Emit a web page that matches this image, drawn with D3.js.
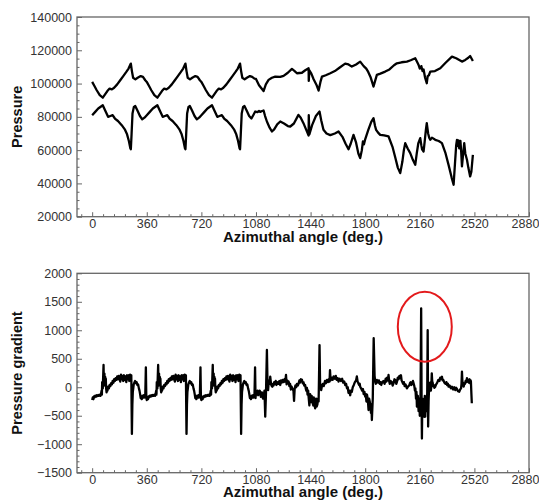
<!DOCTYPE html>
<html><head><meta charset="utf-8">
<script src="https://cdn.jsdelivr.net/npm/d3@7"></script>
<style>
body{margin:0;background:#fff;}
svg{display:block;font-family:"Liberation Sans",Arial,sans-serif;}
</style></head>
<body>
<svg id="c" width="539" height="502"></svg>
<script>
// ---------- DATA ----------
const xTicks = [0,360,720,1080,1440,1800,2160,2520,2880];
const topYTicks = [20000,40000,60000,80000,100000,120000,140000];
const botYTicks = [-1500,-1000,-500,0,500,1000,1500,2000];

const upperPressure = [
[0,101000],[15,98500],[30,96000],[50,93000],[70,91500],[85,93500],[100,95500],[115,97000],[130,96500],[145,97500],[165,99500],[185,102000],[205,104500],[225,107000],[240,109000],[255,112000],[262,107500],[270,103500],[285,102500],[300,103500],[320,104500],[335,104000],[350,102000],
[360,101000],[375,98500],[390,96000],[410,93000],[430,91500],[445,93500],[460,95500],[475,97000],[490,96500],[505,97500],[525,99500],[545,102000],[565,104500],[585,107000],[600,109000],[615,112000],[622,107500],[630,103500],[645,102500],[660,103500],[680,104500],[695,104000],[710,102000],
[720,101000],[735,98500],[750,96000],[770,93000],[790,91500],[805,93500],[820,95500],[835,97000],[850,96500],[865,97500],[885,99500],[905,102000],[925,104500],[945,107000],[960,109000],[975,112000],[982,107500],[990,103500],[1005,102500],[1020,103500],[1040,104500],[1055,104000],[1070,103000],
[1080,102800],[1100,99000],[1130,95500],[1145,99500],[1163,102200],[1185,103500],[1207,104200],[1240,104000],[1262,104600],[1290,106500],[1317,108800],[1335,107500],[1350,106200],[1383,106500],[1405,108000],[1427,109200],[1428,101600],[1432,108000],[1445,106000],[1460,102600],[1480,99000],[1493,95800],[1505,101000],[1515,104200],[1540,105000],[1570,106200],[1600,107500],[1630,109500],[1668,112000],[1690,111500],[1712,110200],[1740,111500],[1767,113200],[1790,110500],[1807,109000],[1820,107000],[1835,104000],[1855,98200],[1865,101500],[1877,105200],[1900,106000],[1932,107200],[1960,108500],[1990,111000],[2009,112200],[2040,112800],[2075,113200],[2100,114000],[2130,115200],[2145,112500],[2152,111200],[2160,109000],[2170,110500],[2178,107500],[2185,108500],[2195,103500],[2206,100200],[2212,104500],[2220,105000],[2229,107200],[2260,107500],[2295,109200],[2330,112500],[2372,116200],[2400,115200],[2438,113200],[2460,114200],[2480,115500],[2492,116600],[2510,113600]
];

const lowerPressure = [
[0,81000],[20,83000],[40,85000],[70,87000],[85,84000],[105,80000],[120,80500],[135,81000],[150,79000],[170,77500],[195,75000],[215,72500],[230,69500],[242,65500],[252,61000],[255,60500],[260,70000],[266,82000],[275,86000],[284,86500],[300,83500],[315,80500],[330,78500],[345,79500],
[360,81000],[380,83000],[400,85000],[430,87000],[445,84000],[465,80000],[480,80500],[495,81000],[510,79000],[530,77500],[555,75000],[575,72500],[590,69500],[602,65500],[612,61000],[615,60500],[620,70000],[626,82000],[635,86000],[644,86500],[660,83500],[675,80500],[690,78500],[705,79500],
[720,81000],[740,83000],[760,85000],[790,87000],[805,84000],[825,80000],[840,80500],[855,81000],[870,79000],[890,77500],[915,75000],[935,72500],[950,69500],[962,65500],[972,61000],[975,60500],[980,70000],[986,82000],[995,86000],[1004,86500],[1020,83500],[1035,80500],[1050,79000],[1062,81000],
[1075,83200],[1090,82800],[1100,83500],[1108,83000],[1120,83500],[1130,83800],[1140,80500],[1152,77200],[1170,73500],[1185,71200],[1200,72500],[1220,75500],[1240,77200],[1265,76000],[1290,74500],[1306,74200],[1330,76000],[1360,81200],[1375,79500],[1393,76200],[1410,72500],[1427,68800],[1428,81000],[1432,69500],[1450,75000],[1475,80500],[1499,83200],[1510,78000],[1525,72200],[1545,70000],[1570,69000],[1600,70000],[1624,71200],[1650,68000],[1670,64000],[1690,60500],[1705,64000],[1723,69200],[1740,64500],[1755,58000],[1767,55200],[1778,60000],[1785,65200],[1792,63500],[1800,66500],[1820,72000],[1840,77000],[1855,79200],[1865,74500],[1872,72200],[1885,70500],[1899,69200],[1925,68800],[1954,68200],[1980,62000],[2000,55000],[2015,49500],[2031,46200],[2045,53000],[2055,60000],[2064,64200],[2080,61000],[2097,58200],[2115,54000],[2130,51200],[2140,58000],[2150,64000],[2163,67200],[2170,63000],[2175,60500],[2185,59200],[2192,65000],[2200,72000],[2206,76200],[2215,70000],[2222,67500],[2229,66200],[2240,67500],[2262,66200],[2285,65500],[2306,64200],[2330,58000],[2350,51000],[2370,43500],[2383,39200],[2392,52000],[2400,63000],[2405,66200],[2410,62500],[2415,65800],[2420,61000],[2428,65500],[2433,59000],[2438,50200],[2445,57000],[2453,64200],[2460,58000],[2471,54200],[2480,49500],[2492,44200],[2500,47000],[2510,57200]
];

const pressureGradient = [
[0,-225],[4,-180],[8,-210],[12,-160],[16,-175],[20,-150],[26,-165],[30,-140],[36,-155],[40,-135],[46,-150],[50,-130],[55,-150],[58,-120],[62,-60],[64,-130],[66,90],[70,-20],[75,390],[77,100],[79,30],[81,240],[83,60],[86,180],[88,40],[90,150],[92,-20],[95,-90],[98,-10],[101,-60],[105,10],[110,-20],[115,40],[120,20],[125,70],[130,50],[135,110],[140,80],[145,140],[150,110],[155,160],[160,130],[165,190],[170,140],[175,200],[180,150],[185,100],[190,220],[195,140],[200,200],[205,110],[210,210],[215,130],[220,190],[225,90],[230,210],[235,140],[240,210],[245,110],[250,220],[254,150],[258,210],[262,-820],[265,-300],[268,-80],[271,-20],[274,50],[278,80],[283,110],[288,70],[293,90],[298,40],[303,50],[308,-20],[312,-60],[316,-120],[320,-190],[324,-160],[327,-210],[332,-150],[337,-180],[341,-140],[345,-180],[350,-150],[354,350],[357,-190],
[360,-225],[364,-180],[368,-210],[372,-160],[376,-175],[380,-150],[386,-165],[390,-140],[396,-155],[400,-135],[406,-150],[410,-130],[415,-150],[418,-120],[422,-60],[424,-130],[426,90],[430,-20],[435,390],[437,100],[439,30],[441,240],[443,60],[446,180],[448,40],[450,150],[452,-20],[455,-90],[458,-10],[461,-60],[465,10],[470,-20],[475,40],[480,20],[485,70],[490,50],[495,110],[500,80],[505,140],[510,110],[515,160],[520,130],[525,190],[530,140],[535,200],[540,150],[545,100],[550,220],[555,140],[560,200],[565,110],[570,210],[575,130],[580,190],[585,90],[590,210],[595,140],[600,210],[605,110],[610,220],[614,150],[618,210],[622,-820],[625,-300],[628,-80],[631,-20],[634,50],[638,80],[643,110],[648,70],[653,90],[658,40],[663,50],[668,-20],[672,-60],[676,-120],[680,-190],[684,-160],[687,-210],[692,-150],[697,-180],[701,-140],[705,-180],[710,-150],[714,350],[717,-190],
[720,-225],[724,-180],[728,-210],[732,-160],[736,-175],[740,-150],[746,-165],[750,-140],[756,-155],[760,-135],[766,-150],[770,-130],[775,-150],[778,-120],[782,-60],[784,-130],[786,90],[790,-20],[795,390],[797,100],[799,30],[801,240],[803,60],[806,180],[808,40],[810,150],[812,-20],[815,-90],[818,-10],[821,-60],[825,10],[830,-20],[835,40],[840,20],[845,70],[850,50],[855,110],[860,80],[865,140],[870,110],[875,160],[880,130],[885,190],[890,140],[895,200],[900,150],[905,100],[910,220],[915,140],[920,200],[925,110],[930,210],[935,130],[940,190],[945,90],[950,210],[955,140],[960,210],[965,110],[970,220],[974,150],[978,210],[982,-820],[985,-300],[988,-80],[991,-20],[994,50],[998,80],[1003,110],[1008,70],[1013,90],[1018,40],[1023,50],[1028,-20],[1032,-60],[1036,-120],[1040,-190],[1044,-160],[1047,-210],[1052,-150],[1057,-180],[1061,-140],[1065,-180],[1070,-150],[1074,350],[1077,-190],
[1080,-90],[1085,-130],[1090,-60],[1095,-140],[1100,-120],[1104,-60],[1108,-80],[1112,-170],[1115,-150],[1119,-90],[1122,-130],[1126,-200],[1130,-170],[1136,-60],[1141,-517],[1146,-100],[1152,654],[1156,80],[1160,-50],[1163,60],[1166,120],[1170,60],[1174,185],[1178,90],[1182,30],[1188,10],[1192,60],[1196,30],[1200,90],[1205,60],[1210,110],[1215,40],[1220,90],[1228,60],[1234,110],[1240,40],[1245,120],[1250,80],[1256,130],[1262,90],[1268,140],[1273,100],[1278,215],[1282,50],[1286,120],[1290,70],[1295,100],[1300,20],[1305,60],[1310,-40],[1315,10],[1320,-20],[1327,-60],[1331,-240],[1335,-30],[1340,30],[1345,0],[1350,60],[1356,30],[1361,65],[1366,120],[1370,80],[1376,140],[1383,130],[1388,70],[1393,90],[1398,30],[1404,40],[1408,-20],[1412,-60],[1416,-10],[1420,-130],[1424,-60],[1427,-170],[1432,-320],[1437,-120],[1441,-200],[1444,-260],[1447,-150],[1450,-200],[1454,-280],[1458,-320],[1461,-180],[1464,-250],[1467,-320],[1470,-370],[1473,-250],[1476,-200],[1480,-340],[1485,-300],[1489,-200],[1493,-250],[1499,740],[1503,0],[1507,40],[1510,-50],[1515,20],[1520,60],[1527,20],[1535,110],[1541,70],[1548,130],[1554,90],[1560,140],[1565,100],[1568,300],[1572,120],[1578,170],[1585,130],[1592,190],[1600,150],[1606,200],[1612,130],[1618,160],[1624,100],[1632,150],[1640,110],[1648,150],[1655,80],[1662,100],[1668,40],[1674,60],[1680,-20],[1685,0],[1690,-100],[1695,-60],[1701,-140],[1706,-60],[1712,-80],[1718,0],[1725,40],[1732,90],[1740,120],[1745,190],[1750,100],[1755,70],[1760,40],[1764,60],[1767,10],[1773,-20],[1780,-60],[1785,-30],[1790,-120],[1795,-80],[1800,-165],[1804,-120],[1808,-250],[1812,-130],[1815,-180],[1819,-280],[1822,-400],[1826,-200],[1830,-250],[1834,-320],[1838,-450],[1841,-300],[1844,-575],[1850,-200],[1856,860],[1862,200],[1866,100],[1870,60],[1877,130],[1884,80],[1890,120],[1896,60],[1900,90],[1906,40],[1912,90],[1920,110],[1928,60],[1935,150],[1940,100],[1945,170],[1950,120],[1954,215],[1958,110],[1962,60],[1968,110],[1975,90],[1981,30],[1987,70],[1993,140],[2000,120],[2005,60],[2010,100],[2015,170],[2020,140],[2026,200],[2031,160],[2036,210],[2040,120],[2045,90],[2050,60],[2055,90],[2060,20],[2066,50],[2075,-20],[2082,10],[2090,30],[2095,70],[2100,90],[2105,40],[2110,60],[2115,110],[2119,70],[2124,20],[2128,-60],[2131,-20],[2135,-200],[2138,-80],[2141,-340],[2144,-220],[2147,-150],[2150,-300],[2152,-420],[2155,-250],[2157,-200],[2160,-500],[2163,-300],[2165,-100],[2169,1385],[2172,-300],[2174,-900],[2176,-400],[2178,-200],[2180,-350],[2182,-450],[2184,-250],[2185,-280],[2188,-400],[2190,-520],[2193,-150],[2196,-517],[2198,-350],[2200,-250],[2203,-420],[2205,-400],[2207,-200],[2209,-100],[2212,1000],[2215,-690],[2218,-250],[2220,-100],[2224,-20],[2228,80],[2233,-60],[2236,20],[2239,245],[2242,100],[2245,80],[2248,20],[2252,40],[2256,-10],[2262,10],[2268,50],[2275,80],[2282,130],[2290,110],[2295,170],[2300,150],[2306,185],[2310,120],[2315,130],[2322,80],[2330,60],[2335,90],[2340,40],[2345,60],[2350,10],[2357,30],[2365,-20],[2372,10],[2380,-40],[2387,0],[2394,-50],[2400,-10],[2405,-30],[2412,-70],[2420,-80],[2426,-40],[2432,-20],[2435,60],[2438,275],[2442,40],[2445,80],[2449,10],[2453,50],[2458,60],[2462,110],[2465,120],[2468,90],[2471,160],[2476,100],[2480,120],[2484,80],[2488,140],[2492,70],[2495,120],[2497,100],[2500,-100],[2503,-280]
];

// highlighted region (angle, gradient, half-width in angle, half-height in gradient)
const highlight = [2193, 1063, 178, 614];

// ---------- DRAW ----------
const svg = d3.select("#c");
const L = 77, R = 529;
const x = d3.scaleLinear().domain([-100, 2880]).range([L, R]);
const yTop = d3.scaleLinear().domain([20000, 140000]).range([216.7, 17]);
const yBot = d3.scaleLinear().domain([-1500, 2000]).range([472.7, 273.3]);

const axisColor = "#666";
const textColor = "#333";

function panel(y, yTicks, yMinorStep, yLabel, titleOffset, series, lineWidth) {
  const [y0, y1] = y.range();
  const g = svg.append("g");
  g.append("rect").attr("x", L).attr("y", y1).attr("width", R - L).attr("height", y0 - y1)
    .attr("fill", "none").attr("stroke", axisColor).attr("stroke-width", 1.3);

  const xMinor = d3.range(-72, 2881, 72).filter(v => v % 360 !== 0);
  g.append("g").attr("transform", `translate(0,${y0})`)
    .call(d3.axisBottom(x).tickValues(xMinor).tickSize(-2.5).tickFormat(""))
    .call(s => { s.select(".domain").remove(); s.selectAll("line").attr("stroke", axisColor); });
  g.append("g").attr("transform", `translate(0,${y0})`)
    .call(d3.axisBottom(x).tickValues(xTicks).tickSize(-4.5).tickPadding(2).tickFormat(d3.format("d")))
    .call(s => {
      s.select(".domain").remove();
      s.selectAll("line").attr("stroke", axisColor);
      s.selectAll("text").attr("fill", textColor).attr("font-size", "12.5px")
        .attr("font-family", "Liberation Sans, Arial, sans-serif");
      s.selectAll("text").filter(d => d === 2880).attr("dx", "-4");
    });
  const [d0, d1] = y.domain();
  const yMinor = d3.range(d0, d1 + 0.001, yMinorStep).filter(v => !yTicks.includes(v));
  g.append("g").attr("transform", `translate(${L},0)`)
    .call(d3.axisLeft(y).tickValues(yMinor).tickSize(-2.5).tickFormat(""))
    .call(s => { s.select(".domain").remove(); s.selectAll("line").attr("stroke", axisColor); });
  g.append("g").attr("transform", `translate(${L},0)`)
    .call(d3.axisLeft(y).tickValues(yTicks).tickSize(-5).tickPadding(5).tickFormat(d3.format("d")))
    .call(s => {
      s.select(".domain").remove();
      s.selectAll("line").attr("stroke", axisColor);
      s.selectAll("text").attr("fill", textColor).attr("font-size", "12.5px")
        .attr("font-family", "Liberation Sans, Arial, sans-serif");
    });

  g.append("text").attr("x", (L + R) / 2).attr("y", y0 + titleOffset).attr("text-anchor", "middle")
    .attr("font-size", "15px").attr("font-weight", "bold").attr("fill", "#111")
    .text("Azimuthal angle (deg.)");
  g.append("text").attr("transform", `translate(21.5,${(y0 + y1) / 2}) rotate(-90)`)
    .attr("text-anchor", "middle").attr("font-size", "14.5px").attr("font-weight", "bold").attr("fill", "#111")
    .text(yLabel);

  const line = d3.line().x(d => x(d[0])).y(d => y(d[1]));
  series.forEach(s => {
    g.append("path").datum(s).attr("d", line).attr("fill", "none")
      .attr("stroke", "#000").attr("stroke-width", lineWidth).attr("stroke-linejoin", "round");
  });
  return g;
}

panel(yTop, topYTicks, 5000, "Pressure", 25, [upperPressure, lowerPressure], 2.3);
const gb = panel(yBot, botYTicks, 100, "Pressure gradient", 24.5, [pressureGradient], 2.3);

const [ha, hv, hda, hdv] = highlight;
gb.append("ellipse")
  .attr("cx", x(ha)).attr("cy", yBot(hv))
  .attr("rx", x(ha + hda) - x(ha)).attr("ry", yBot(hv - hdv) - yBot(hv))
  .attr("fill", "none").attr("stroke", "#e31a1c").attr("stroke-width", 2);
</script>
</body></html>
